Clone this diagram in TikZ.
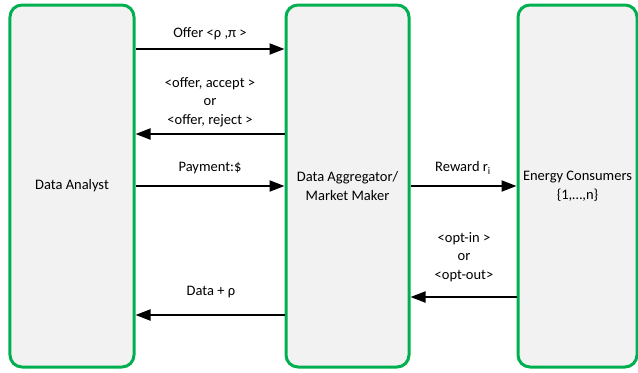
\documentclass[tikz,border=0pt]{standalone}
\usepackage{fontspec}
\setmainfont{Carlito}
\usetikzlibrary{arrows.meta}
\definecolor{boxgreen}{HTML}{00B050}
\definecolor{boxfill}{HTML}{F2F2F2}
\tikzset{
  actor/.style={draw=boxgreen, fill=boxfill, line width=3bp, rounded corners=12bp, inner sep=0pt, align=center, font=\fontsize{14.5bp}{19bp}\selectfont},
  msg/.style={line width=2bp, -{Triangle[length=15bp,width=11bp]}},
  lbl/.style={align=center, inner sep=0pt, font=\fontsize{14.5bp}{18.5bp}\selectfont}
}
\begin{document}
\begin{tikzpicture}[x=1bp,y=-1bp]
\useasboundingbox (0,0) rectangle (638,372);
\node[actor, minimum width=124bp, minimum height=362bp] (da) at (72,186) {Data Analyst};
\node[actor, minimum width=123bp, minimum height=362bp] (mm) at (347.5,186) {Data Aggregator/\\Market Maker};
\node[actor, minimum width=119bp, minimum height=362bp] (ec) at (577.5,186) {Energy Consumers\\\{1,…,n\}};
\draw[msg] (da.east |- 0,49) -- (mm.west |- 0,49);
\node[lbl] (l1) at (210,34) {Offer <ρ ,π >};
\draw[msg] (mm.west |- 0,134) -- (da.east |- 0,134);
\node[lbl] (l2) at (210,102) {<offer, accept >\\or\\<offer, reject >};
\draw[msg] (da.east |- 0,186) -- (mm.west |- 0,186);
\node[lbl] (l3) at (210,168) {Payment:\$};
\draw[msg] (mm.east |- 0,186) -- (ec.west |- 0,186);
\node[lbl] (l4) at (463,168) {Reward r\textsubscript{i}};
\draw[msg] (ec.west |- 0,297) -- (mm.east |- 0,297);
\node[lbl] (l5) at (464,257) {<opt-in >\\or\\<opt-out>};
\draw[msg] (mm.west |- 0,315) -- (da.east |- 0,315);
\node[lbl] (l6) at (211,292) {Data + ρ};
\end{tikzpicture}
\end{document}
